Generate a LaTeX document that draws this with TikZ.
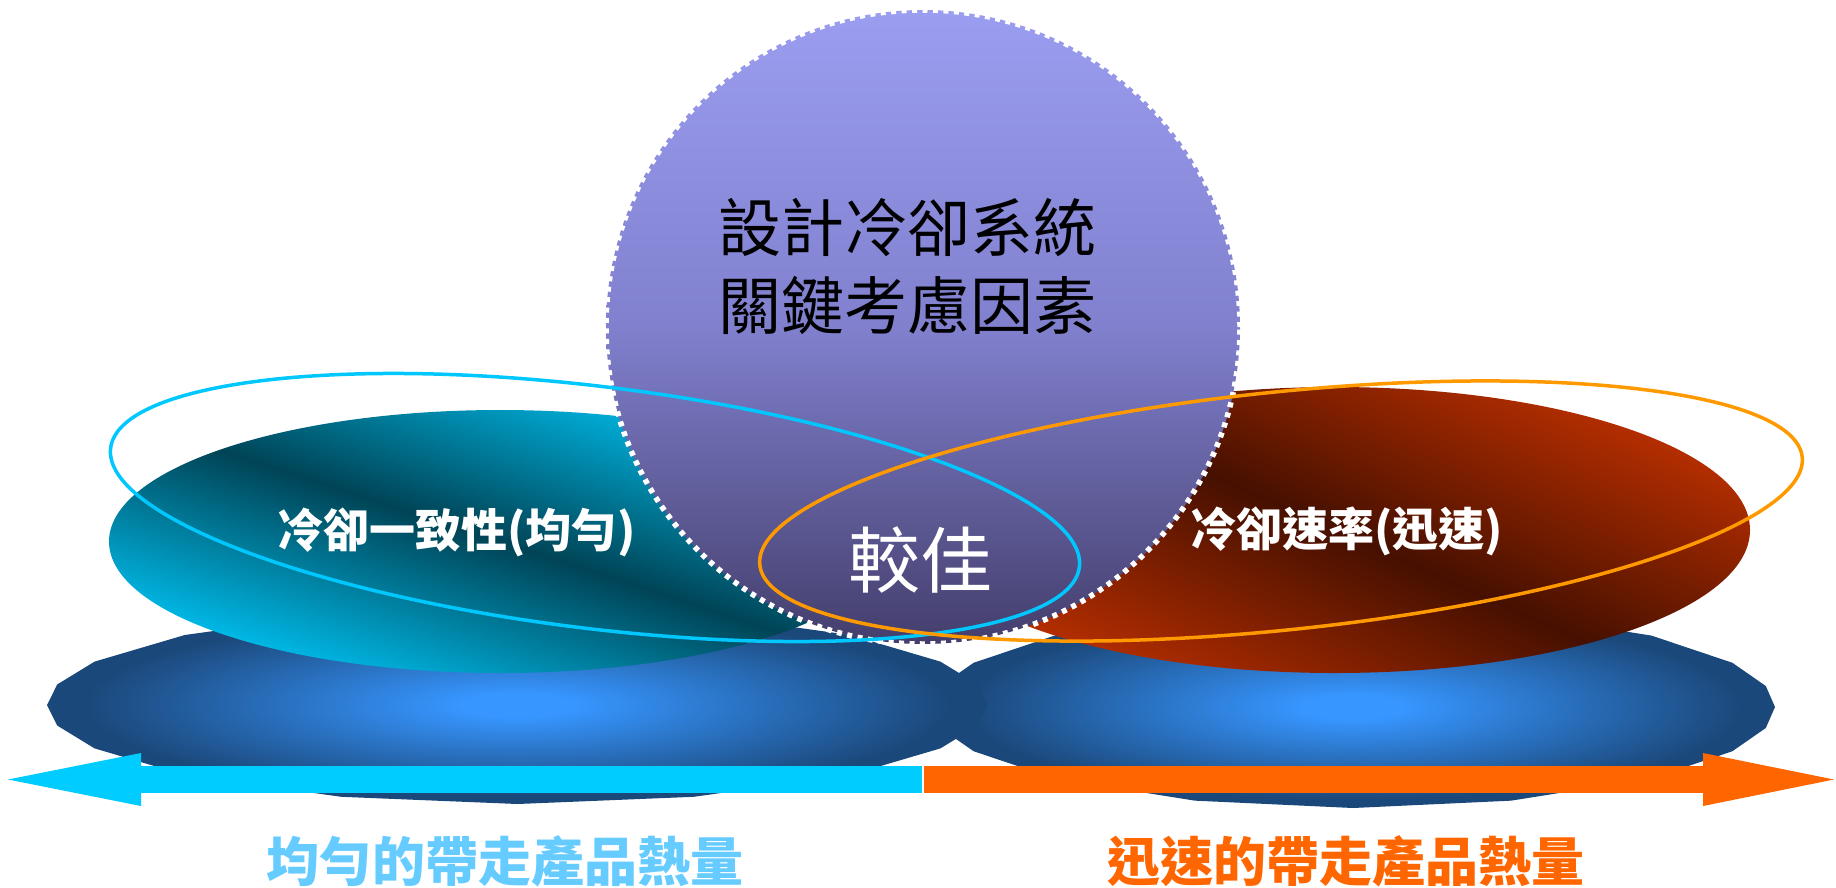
\documentclass[tikz,border=0pt]{standalone}
\usepackage{fontspec}
\newfontfamily\cjk{Noto Sans CJK TC}
\usetikzlibrary{arrows.meta}
\definecolor{cyL}{RGB}{0,186,232}
\definecolor{cyD}{RGB}{0,68,86}
\definecolor{rdL}{RGB}{182,46,0}
\definecolor{rdD}{RGB}{70,16,0}
\definecolor{ctop}{RGB}{155,157,240}
\definecolor{cmid}{RGB}{128,128,206}
\definecolor{cbot}{RGB}{68,62,108}
\definecolor{blL}{RGB}{55,150,255}
\definecolor{blD}{RGB}{27,72,122}
\definecolor{arC}{RGB}{0,204,255}
\definecolor{arO}{RGB}{255,102,0}
\definecolor{olC}{RGB}{0,200,255}
\definecolor{olO}{RGB}{255,153,0}
\definecolor{txC}{RGB}{102,204,255}
\pgfdeclareverticalshading{circsh}{100bp}{color(0bp)=(cbot); color(25bp)=(cbot); color(50bp)=(cmid); color(75bp)=(ctop); color(100bp)=(ctop)}
\pgfdeclareradialshading{blobsh}{\pgfpoint{0bp}{0bp}}{color(0bp)=(blL); color(3bp)=(blL); color(23bp)=(blD); color(50bp)=(blD)}
\pgfdeclareverticalshading{cysh}{100bp}{color(0bp)=(cyL); color(25bp)=(cyL); color(50bp)=(cyD); color(75bp)=(cyL); color(100bp)=(cyL)}
\pgfdeclareverticalshading{rdsh}{100bp}{color(0bp)=(rdL); color(25bp)=(rdL); color(50bp)=(rdD); color(75bp)=(rdL); color(100bp)=(rdL)}
\tikzset{
  outl/.style={line width=3.5pt},
  lbl/.style={font=\cjk\bfseries\fontsize{46}{52}\selectfont, text=white, inner sep=0pt},
  btm/.style={font=\cjk\bfseries\fontsize{53}{60}\selectfont, inner sep=0pt},
  bigarrow/.style={line width=27pt},
}
\begin{document}
\begin{tikzpicture}[x=1pt,y=-1pt]
\useasboundingbox (0,0) rectangle (1836,887);
\fill[white] (0,0) rectangle (1836,887);
% bottom blobs
\shade[shading=blobsh] plot[samples at={0,12,26,45,68,90,112,135,154,168,180,192,206,225,248,270,292,315,334,348}] ({1353+422*cos(\x)},{707+101*sin(\x)}) -- cycle;
\shade[shading=blobsh] plot[samples at={0,12,26,45,68,90,112,135,154,168,180,192,206,225,248,270,292,315,334,348}] ({517.5+470.5*cos(\x)},{705+99*sin(\x)}) -- cycle;
% arrows
\coordinate (mL) at (922,779.5);
\coordinate (mR) at (924,779.5);
\coordinate (tipL) at (8,779.5);
\coordinate (tipR) at (1834,779.5);
\draw[bigarrow, arC, -{Triangle[length=133pt,width=53pt,line width=0pt]}] (mL) -- (tipL);
\draw[bigarrow, arO, -{Triangle[length=131pt,width=53pt,line width=0pt]}] (mR) -- (tipR);
% cyan filled ellipse
\begin{scope}
  \clip (500,541.5) ellipse [x radius=391pt, y radius=131.5pt];
  \begin{scope}[transform canvas={rotate around={-18:(500,541.5)}}]
    \shade[shading=cysh] (0,363.5) rectangle (1000,719.5);
  \end{scope}
\end{scope}
% red filled ellipse
\begin{scope}
  \clip (1335,530) ellipse [x radius=415pt, y radius=143pt];
  \begin{scope}[transform canvas={rotate around={-24:(1335,530)}}]
    \shade[shading=rdsh] (885,312) rectangle (1785,748);
  \end{scope}
\end{scope}
% central circle
\shadedraw[shading=circsh, draw=white, line width=5.5pt, dash pattern=on 5pt off 5.5pt] (923,327) circle [radius=317pt];
% outline ellipses
\draw[olC, outl, rotate around={-7:(595,507.5)}] (595,507.5) ellipse [x radius=488pt, y radius=121pt];
\draw[olO, outl, rotate around={5.9:(1281,511)}] (1281,511) ellipse [x radius=524pt, y radius=119pt];
% texts
\node[font=\cjk\fontsize{63}{78}\selectfont, align=center, text=black, inner sep=0pt] (title) at (907,266.5) {設計冷卻系統\\關鍵考慮因素};
\node[lbl] (left) at (456.5,532) {冷卻一致性(均勻)};
\node[lbl] (right) at (1346.5,531) {冷卻速率(迅速)};
\node[font=\cjk\fontsize{72}{80}\selectfont, text=white, inner sep=0pt] (better) at (920,560) {較佳};
\node[btm, text=txC] (bl) at (505,861) {均勻的帶走產品熱量};
\node[btm, text=arO] (br) at (1346,861) {迅速的帶走產品熱量};
\end{tikzpicture}
\end{document}
